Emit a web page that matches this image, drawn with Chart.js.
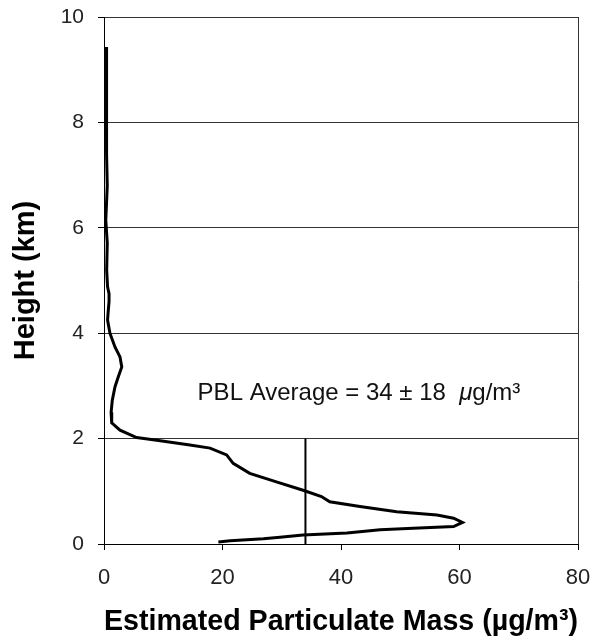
<!DOCTYPE html>
<html>
<head>
<meta charset="utf-8">
<script src="https://cdn.jsdelivr.net/npm/chart.js@4.4.1/dist/chart.umd.min.js"></script>
<style>
  html, body { margin: 0; padding: 0; background: #fff; }
  #wrap { width: 591px; height: 642px; }
</style>
</head>
<body>
<div id="wrap"><canvas id="c"></canvas></div>
<script>
// perfil de masa estimada vs altura
const profileMass = [0.4, 0.45, 0.45, 0.4, 0.55, 0.4, 0.3, 0.55, 0.45, 0.6, 0.85, 0.85, 0.7, 0.6, 1.0, 1.85, 2.7, 3.0, 2.4, 1.85, 1.4, 1.2, 1.3, 2.7, 5.5, 8.9, 14.5, 17.9, 20.7, 21.8, 24.6, 29.1, 33.6, 36.7, 38.1, 43.2, 49.4, 56.2, 59.0, 60.5, 59.0, 52.2, 46.6, 41.0, 33.6, 29.7, 26.9, 21.3, 19.3];
const profileHeight = [9.43, 9.0, 8.05, 7.4, 6.8, 6.4, 6.15, 5.71, 5.2, 4.88, 4.75, 4.6, 4.4, 4.25, 4.0, 3.74, 3.55, 3.36, 3.17, 2.98, 2.73, 2.5, 2.3, 2.16, 2.02, 1.97, 1.88, 1.82, 1.69, 1.53, 1.34, 1.18, 1.02, 0.9, 0.8, 0.71, 0.61, 0.55, 0.49, 0.41, 0.33, 0.30, 0.27, 0.21, 0.17, 0.13, 0.10, 0.06, 0.04];

// promedio de la capa límite (PBL)
const pblMean = 34;
const pblStd = 18;
const pblTop = 2;

const xTicks = [0, 20, 40, 60, 80];
const yTicks = [0, 2, 4, 6, 8, 10];

const FONT = '"Liberation Sans", Arial, sans-serif';

const profileData = profileMass.map((m, i) => ({ x: m, y: profileHeight[i] }));
const pblLine = [{ x: pblMean, y: 0 }, { x: pblMean, y: pblTop }];

// texto de la anotación dentro del gráfico
const pblLabel = {
  id: 'pblLabel',
  afterDatasetsDraw(chart) {
    const { ctx, scales } = chart;
    const x0 = scales.x.getPixelForValue(15.8);
    const y0 = scales.y.getPixelForValue(2.85);
    ctx.save();
    ctx.fillStyle = '#111';
    ctx.textBaseline = 'middle';
    const parts = [
      ['24px ' + FONT, 'PBL Average = ' + pblMean + ' \u00b1 ' + pblStd + '  '],
      ['italic 24px ' + FONT, '\u03bc'],
      ['24px ' + FONT, 'g/m\u00b3']
    ];
    let x = x0;
    parts.forEach(([f, t]) => {
      ctx.font = f;
      ctx.fillText(t, x, y0);
      x += ctx.measureText(t).width;
    });
    ctx.restore();
  }
};

new Chart(document.getElementById('c').getContext('2d'), {
  type: 'line',
  data: {
    datasets: [
      {
        label: 'Perfil',
        data: profileData,
        borderColor: '#000',
        borderWidth: 3,
        pointRadius: 0,
        tension: 0,
        fill: false
      },
      {
        label: 'PBL',
        data: pblLine,
        borderColor: '#000',
        borderWidth: 2,
        pointRadius: 0,
        fill: false
      }
    ]
  },
  plugins: [pblLabel],
  options: {
    responsive: true,
    maintainAspectRatio: false,
    animation: false,
    layout: { padding: { top: 17, right: 13, left: 0, bottom: 0 } },
    plugins: {
      legend: { display: false },
      tooltip: { enabled: false }
    },
    scales: {
      x: {
        type: 'linear',
        min: 0,
        max: 80,
        afterBuildTicks: s => { s.ticks = xTicks.map(v => ({ value: v })); },
        afterFit: s => { s.height = 98; s.paddingLeft = 0; s.paddingRight = 0; },
        ticks: { color: '#222', font: { family: FONT, size: 22 }, padding: 15, maxRotation: 0 },
        grid: {
          color: c => (c.tick && c.tick.value === 80 ? '#333' : 'rgba(0,0,0,0)'),
          tickColor: '#000',
          tickLength: 6,
          lineWidth: 1
        },
        border: { color: '#000', width: 1 },
        title: {
          display: true,
          text: 'Estimated Particulate Mass (\u00b5g/m\u00b3)',
          color: '#000',
          font: { family: FONT, size: 30, weight: 'bold' },
          padding: { top: 0, bottom: 2 }
        }
      },
      y: {
        type: 'linear',
        min: 0,
        max: 10,
        afterBuildTicks: s => { s.ticks = yTicks.map(v => ({ value: v })); },
        afterFit: s => { s.width = 104; s.paddingTop = 0; s.paddingBottom = 0; },
        ticks: { color: '#222', font: { family: FONT, size: 21 }, padding: 14 },
        grid: { color: '#333', tickColor: '#000', tickLength: 6, lineWidth: 1 },
        border: { color: '#000', width: 1 },
        title: {
          display: true,
          text: 'Height (km)',
          color: '#000',
          font: { family: FONT, size: 29, weight: 'bold' },
          padding: { top: 9, bottom: 0 }
        }
      }
    }
  }
});
</script>
</body>
</html>
